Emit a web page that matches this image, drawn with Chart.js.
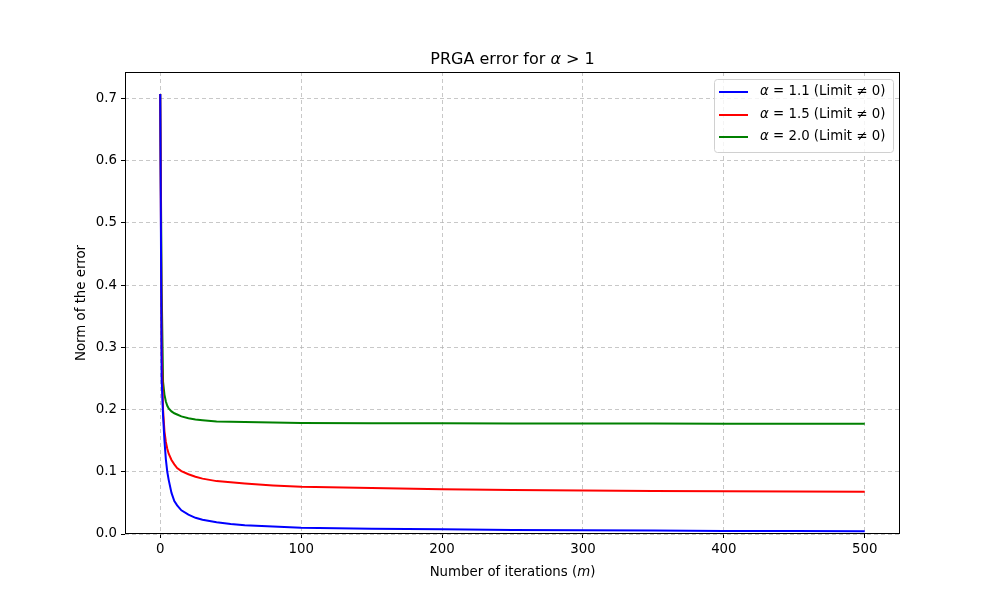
<!DOCTYPE html>
<html><head><meta charset="utf-8">
<script src="https://cdn.jsdelivr.net/npm/chart.js@4/dist/chart.umd.min.js"></script>
<style>html,body{margin:0;padding:0;background:#fff}#wrap{width:1000px;height:600px}</style>
</head><body><div id="wrap"><canvas id="c" width="1000" height="600"></canvas></div>
<script>
const iterations = [0,1,2,3,4,5,6,8,10,12,15,20,25,30,40,50,60,80,100,150,200,250,300,350,400,450,500];
const alpha11 = [0.707,0.25,0.19,0.15,0.12,0.10,0.087,0.066,0.053,0.046,0.038,0.031,0.026,0.023,0.019,0.016,0.014,0.012,0.010,0.0085,0.0075,0.0066,0.006,0.0055,0.005,0.0047,0.0045];
const alpha15 = [0.707,0.30,0.20,0.165,0.148,0.137,0.129,0.119,0.112,0.106,0.101,0.096,0.092,0.089,0.085,0.083,0.081,0.078,0.076,0.0738,0.072,0.0707,0.0698,0.0692,0.0688,0.0684,0.068];
const alpha20 = [0.707,0.40,0.245,0.224,0.213,0.206,0.202,0.197,0.194,0.192,0.189,0.186,0.184,0.183,0.181,0.1805,0.180,0.179,0.1785,0.178,0.1778,0.1776,0.1775,0.1774,0.1773,0.1772,0.1772];
const seriesLabels = ['1.1','1.5','2.0'];
const seriesColors = ['#0000ff','#ff0000','#008000'];
const xTicks = [0,100,200,300,400,500];
const yTicks = [0,0.1,0.2,0.3,0.4,0.5,0.6,0.7];

const FONT = "'DejaVu Sans', sans-serif";
const toPts = arr => iterations.map((m,i)=>({x:m,y:arr[i]}));
const allVals = [alpha11, alpha15, alpha20];

const framePlugin = {
  id:'frame',
  afterDraw(chart){
    const ctx = chart.ctx, a = chart.chartArea;
    ctx.save();
    ctx.strokeStyle = '#000'; ctx.lineWidth = 1;
    ctx.strokeRect(Math.round(a.left)+0.5, Math.round(a.top)+0.5, Math.round(a.right-a.left)-1, Math.round(a.bottom-a.top)-1);
    // title
    ctx.fillStyle = '#000';
    ctx.textBaseline = 'alphabetic';
    const cx = (a.left + a.right)/2;
    const t1 = 'PRGA error for ', t3 = ' > 1';
    ctx.font = "16px " + FONT;
    const w1 = ctx.measureText(t1).width, w3 = ctx.measureText(t3).width;
    ctx.font = "italic 16px " + FONT;
    const w2 = ctx.measureText('α').width;
    let x = cx - (w1+w2+w3)/2; const y = 64;
    ctx.font = "16px " + FONT; ctx.textAlign='left';
    ctx.fillText(t1, x, y); x += w1;
    ctx.font = "italic 16px " + FONT; ctx.fillText('α', x, y); x += w2;
    ctx.font = "16px " + FONT; ctx.fillText(t3, x, y);
    // x label
    const xl1 = 'Number of iterations (', xl3 = ')';
    ctx.font = "13.33px " + FONT;
    const a1 = ctx.measureText(xl1).width, a3 = ctx.measureText(xl3).width;
    ctx.font = "italic 13.33px " + FONT;
    const a2 = ctx.measureText('m').width;
    x = cx - (a1+a2+a3)/2;
    ctx.font = "13.33px " + FONT; ctx.fillText(xl1, x, 576); x+=a1;
    ctx.font = "italic 13.33px " + FONT; ctx.fillText('m', x, 576); x+=a2;
    ctx.font = "13.33px " + FONT; ctx.fillText(xl3, x, 576);
    // y label
    ctx.save();
    ctx.translate(85, (a.top+a.bottom)/2);
    ctx.rotate(-Math.PI/2);
    ctx.textAlign='center';
    ctx.font = "13.33px " + FONT;
    ctx.fillText('Norm of the error', 0, 0);
    ctx.restore();
    // legend
    const lx = 714, ly = 79, lw = 179, lh = 73;
    ctx.globalAlpha = 0.8;
    ctx.fillStyle = '#fff';
    ctx.beginPath(); ctx.roundRect(lx+0.5, ly+0.5, lw, lh, 3); ctx.fill();
    ctx.globalAlpha = 1;
    ctx.strokeStyle = '#d0d0d0'; ctx.lineWidth = 1;
    ctx.beginPath(); ctx.roundRect(lx+0.5, ly+0.5, lw, lh, 3); ctx.stroke();
    const rows = [92, 115, 137];
    seriesLabels.forEach((lab, i) => {
      const ry = rows[i];
      ctx.strokeStyle = seriesColors[i]; ctx.lineWidth = 2;
      ctx.beginPath(); ctx.moveTo(719, ry); ctx.lineTo(748, ry); ctx.stroke();
      ctx.fillStyle = '#000'; ctx.textBaseline = 'middle'; ctx.textAlign='left';
      let tx = 760;
      ctx.font = "italic 13.33px " + FONT; ctx.fillText('α', tx, ry); tx += ctx.measureText('α').width;
      ctx.font = "13.33px " + FONT;
      const rest = ' = ' + lab + ' (Limit ≠ 0)';
      ctx.fillText(rest, tx, ry);
    });
    ctx.restore();
  }
};

new Chart(document.getElementById('c'), {
  type: 'line',
  data: {
    datasets: allVals.map((v,i)=>({
      label: 'α = ' + seriesLabels[i] + ' (Limit ≠ 0)',
      data: toPts(v),
      borderColor: seriesColors[i],
      backgroundColor: seriesColors[i],
      borderWidth: 2,
      pointRadius: 0,
      tension: 0,
      fill: false
    }))
  },
  options: {
    responsive: false,
    animation: false,
    devicePixelRatio: 1,
    layout: { padding: { top: 72, right: 100, left: 0, bottom: 0 } },
    plugins: { legend: { display: false }, title: { display: false }, tooltip: { enabled: false } },
    scales: {
      x: {
        type: 'linear', min: -25, max: 525,
        afterFit(s){ s.height = 66; },
        afterBuildTicks(s){ s.ticks = xTicks.map(v=>({value:v})); },
        ticks: { font: { family: FONT, size: 13.33 }, color: '#000', padding: 4, maxRotation: 0 },
        grid: { color: 'rgba(176,176,176,0.7)', tickColor: '#000', tickLength: 4, tickBorderDash: [], tickWidth: 1, drawTicks: true },
        border: { display: false, dash: [4,3] }
      },
      y: {
        type: 'linear', min: 0, max: 0.7425,
        afterFit(s){ s.width = 125; },
        afterBuildTicks(s){ s.ticks = yTicks.map(v=>({value:v})); },
        ticks: { font: { family: FONT, size: 13.33 }, color: '#000', padding: 4, callback: v => v.toFixed(1) },
        grid: { color: 'rgba(176,176,176,0.7)', tickColor: '#000', tickLength: 4, tickBorderDash: [], tickWidth: 1 },
        border: { display: false, dash: [4,3] }
      }
    }
  },
  plugins: [framePlugin]
});
</script></body></html>
